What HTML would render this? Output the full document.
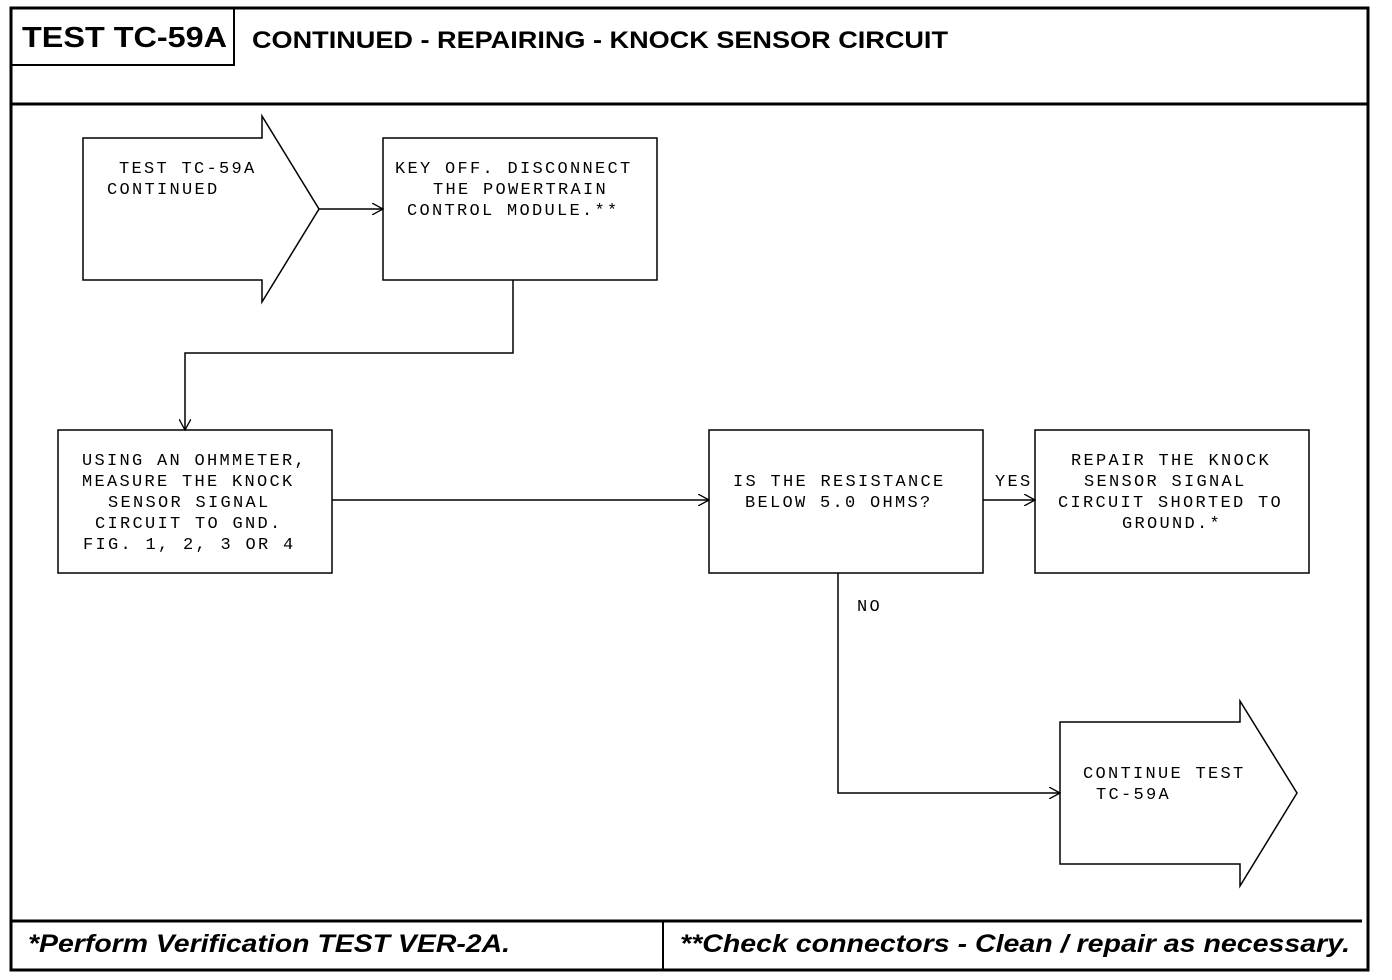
<!DOCTYPE html>
<html><head><style>
html,body{margin:0;padding:0;background:#fff;width:1392px;height:980px;overflow:hidden}
svg{display:block}
.m{font-family:"Liberation Mono",monospace;font-size:17px;letter-spacing:2.3px;fill:#000}
.h{font-family:"Liberation Sans",sans-serif;font-weight:bold;fill:#000}
</style></head><body>
<svg width="1392" height="980" viewBox="0 0 1392 980" xmlns="http://www.w3.org/2000/svg">
<defs><marker id="a" markerWidth="12" markerHeight="12" refX="11" refY="6" orient="auto" markerUnits="userSpaceOnUse"><path d="M0,0 L11,6 L0,12" fill="none" stroke="#000" stroke-width="1.3"/></marker></defs>
<g fill="none" stroke="#000">
<rect x="11" y="8" width="1357" height="962" stroke-width="3"/>
<line x1="11" y1="104" x2="1368" y2="104" stroke-width="3"/>
<rect x="11" y="8" width="223" height="57" stroke-width="2"/>
<line x1="11" y1="921" x2="1362" y2="921" stroke-width="3"/>
<line x1="663" y1="921" x2="663" y2="970" stroke-width="2"/>
<g stroke-width="1.5">
<polygon points="83,138 262,138 262,116 319,209 262,302 262,280 83,280"/>
<rect x="383" y="138" width="274" height="142"/>
<rect x="58" y="430" width="274" height="143"/>
<rect x="709" y="430" width="274" height="143"/>
<rect x="1035" y="430" width="274" height="143"/>
<polygon points="1060,722 1240,722 1240,701 1297,793 1240,886 1240,864 1060,864"/>
<line x1="319" y1="209" x2="383" y2="209" marker-end="url(#a)"/>
<polyline points="513,280 513,353 185,353 185,430" marker-end="url(#a)"/>
<line x1="332" y1="500" x2="709" y2="500" marker-end="url(#a)"/>
<line x1="983" y1="500" x2="1035" y2="500" marker-end="url(#a)"/>
<polyline points="838,573 838,793 1060,793" marker-end="url(#a)"/>
</g></g>
<text class="h" x="22" y="47" font-size="29" textLength="205" lengthAdjust="spacingAndGlyphs">TEST TC-59A</text>
<text class="h" x="252" y="48" font-size="24" textLength="696" lengthAdjust="spacingAndGlyphs">CONTINUED - REPAIRING - KNOCK SENSOR CIRCUIT</text>
<text class="h" x="28" y="952" font-size="25" font-style="italic" textLength="482" lengthAdjust="spacingAndGlyphs">*Perform Verification TEST VER-2A.</text>
<text class="h" x="680" y="952" font-size="25" font-style="italic" textLength="670" lengthAdjust="spacingAndGlyphs">**Check connectors - Clean / repair as necessary.</text>
<g class="m">
<text x="119" y="173">TEST TC-59A</text>
<text x="107" y="194">CONTINUED</text>
<text x="395" y="173">KEY OFF. DISCONNECT</text>
<text x="433" y="194">THE POWERTRAIN</text>
<text x="407" y="215">CONTROL MODULE.**</text>
<text x="82" y="465">USING AN OHMMETER,</text>
<text x="82" y="486">MEASURE THE KNOCK</text>
<text x="108" y="507">SENSOR SIGNAL</text>
<text x="95" y="528">CIRCUIT TO GND.</text>
<text x="83" y="549">FIG. 1, 2, 3 OR 4</text>
<text x="733" y="486">IS THE RESISTANCE</text>
<text x="745" y="507">BELOW 5.0 OHMS?</text>
<text x="995" y="486">YES</text>
<text x="1071" y="465">REPAIR THE KNOCK</text>
<text x="1084" y="486">SENSOR SIGNAL</text>
<text x="1058" y="507">CIRCUIT SHORTED TO</text>
<text x="1122" y="528">GROUND.*</text>
<text x="857" y="611">NO</text>
<text x="1083" y="778">CONTINUE TEST</text>
<text x="1096" y="799">TC-59A</text>
</g>
</svg>
</body></html>
